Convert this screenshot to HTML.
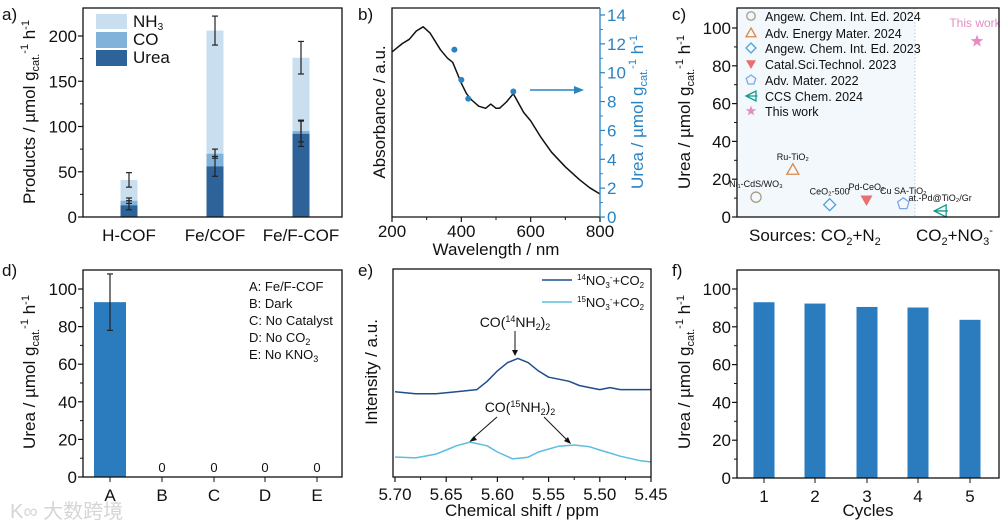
<!DOCTYPE html>
<html><head><meta charset="utf-8"><style>
body{margin:0;background:#fff;}
svg{display:block;font-family:"Liberation Sans","Noto Sans CJK SC",sans-serif;}
.t{font-size:17px;fill:#111;}
.s{font-size:11px;}
</style></head><body>
<svg id="fig" width="1000" height="525" viewBox="0 0 1000 525" xmlns="http://www.w3.org/2000/svg">
<text x="2" y="20" class="t" font-size="19">a)</text>
<text x="358" y="20" class="t" font-size="19">b)</text>
<text x="672" y="20" class="t" font-size="19">c)</text>
<text x="2" y="276" class="t" font-size="19">d)</text>
<text x="358" y="276" class="t" font-size="19">e)</text>
<text x="672" y="276" class="t" font-size="19">f)</text>

<rect x="737" y="8" width="178" height="209" fill="#f3f8fc"/>
<line x1="915" y1="8" x2="915" y2="217" stroke="#bcd" stroke-dasharray="1.5,2"/>

<text class="t" transform="translate(35,112) rotate(-90)" text-anchor="middle">Products / µmol g<tspan font-size="11" dy="4">cat.</tspan><tspan font-size="11" dy="-11">-1</tspan><tspan dy="7"> h</tspan><tspan font-size="11" dy="-6">-1</tspan></text>
<text class="t" transform="translate(385,112) rotate(-90)" text-anchor="middle">Absorbance / a.u.</text>
<text class="t" transform="translate(643,112) rotate(-90)" text-anchor="middle" style="fill:#2a83c2">Urea / µmol g<tspan font-size="11" dy="4">cat.</tspan><tspan font-size="11" dy="-11">-1</tspan><tspan dy="7"> h</tspan><tspan font-size="11" dy="-6">-1</tspan></text>
<text class="t" x="496" y="255" text-anchor="middle">Wavelength / nm</text>
<text class="t" transform="translate(690,112) rotate(-90)" text-anchor="middle">Urea / µmol g<tspan font-size="11" dy="4">cat.</tspan><tspan font-size="11" dy="-11">-1</tspan><tspan dy="7"> h</tspan><tspan font-size="11" dy="-6">-1</tspan></text>
<text class="t" x="749" y="241">Sources: CO<tspan font-size="11" dy="4">2</tspan><tspan dy="-4">+N</tspan><tspan font-size="11" dy="4">2</tspan></text>
<text class="t" x="916" y="241">CO<tspan font-size="11" dy="4">2</tspan><tspan dy="-4">+NO</tspan><tspan font-size="11" dy="4">3</tspan><tspan font-size="11" dy="-11">-</tspan></text>
<text class="t" transform="translate(35,372) rotate(-90)" text-anchor="middle">Urea / µmol g<tspan font-size="11" dy="4">cat.</tspan><tspan font-size="11" dy="-11">-1</tspan><tspan dy="7"> h</tspan><tspan font-size="11" dy="-6">-1</tspan></text>
<text class="t" transform="translate(377,372) rotate(-90)" text-anchor="middle">Intensity / a.u.</text>
<text class="t" x="522" y="516" text-anchor="middle">Chemical shift / ppm</text>
<text class="t" transform="translate(690,372) rotate(-90)" text-anchor="middle">Urea / µmol g<tspan font-size="11" dy="4">cat.</tspan><tspan font-size="11" dy="-11">-1</tspan><tspan dy="7"> h</tspan><tspan font-size="11" dy="-6">-1</tspan></text>
<text class="t" x="868" y="516" text-anchor="middle">Cycles</text>

<g>
<rect x="96" y="14" width="31" height="15" fill="#c9dfef"/><text x="133" y="27" class="t" font-size="14">NH<tspan font-size="10" dy="3">3</tspan></text>
<rect x="96" y="32" width="31" height="16" fill="#80b2da"/><text x="133" y="45" class="t" font-size="14">CO</text>
<rect x="96" y="50" width="31" height="16" fill="#2d6399"/><text x="133" y="63" class="t" font-size="14">Urea</text>
</g>

<g font-size="13" fill="#111">
<text x="249" y="291">A: Fe/F-COF</text><text x="249" y="308">B: Dark</text><text x="249" y="325">C: No Catalyst</text>
<text x="249" y="342">D: No CO<tspan font-size="9" dy="3">2</tspan></text><text x="249" y="359">E: No KNO<tspan font-size="9" dy="3">3</tspan></text>
</g>

<g font-size="13" fill="#111">
<line x1="542" y1="280" x2="572" y2="280" stroke="#1f4e8c" stroke-width="1.5"/>
<text x="577" y="285"><tspan font-size="8" dy="-5">14</tspan><tspan dy="5">NO</tspan><tspan font-size="8" dy="3">3</tspan><tspan font-size="8" dy="-8">-</tspan><tspan dy="5">+CO</tspan><tspan font-size="8" dy="3">2</tspan></text>
<line x1="542" y1="302" x2="572" y2="302" stroke="#5bbde0" stroke-width="1.5"/>
<text x="577" y="307"><tspan font-size="8" dy="-5">15</tspan><tspan dy="5">NO</tspan><tspan font-size="8" dy="3">3</tspan><tspan font-size="8" dy="-8">-</tspan><tspan dy="5">+CO</tspan><tspan font-size="8" dy="3">2</tspan></text>
</g>
<g font-size="14" fill="#111">
<text x="515" y="327" text-anchor="middle">CO(<tspan font-size="9" dy="-5">14</tspan><tspan dy="5">NH</tspan><tspan font-size="9" dy="3">2</tspan><tspan dy="-3">)</tspan><tspan font-size="9" dy="3">2</tspan></text>
<line x1="515" y1="331" x2="515" y2="354" stroke="#111"/><path d="M512,350 L515,356 L518,350Z" fill="#111"/>
<text x="520" y="412" text-anchor="middle">CO(<tspan font-size="9" dy="-5">15</tspan><tspan dy="5">NH</tspan><tspan font-size="9" dy="3">2</tspan><tspan dy="-3">)</tspan><tspan font-size="9" dy="3">2</tspan></text>
<line x1="497" y1="417" x2="472" y2="439" stroke="#111"/><path d="M469,442 L474,436 L477,440Z" fill="#111"/>
<line x1="544" y1="417" x2="568" y2="441" stroke="#111"/><path d="M571,444 L564,441 L568,437Z" fill="#111"/>
</g>

<g><line x1="530" y1="90" x2="575" y2="90" stroke="#2a83c2" stroke-width="1.5"/><path d="M584,90 L574,86 L574,94Z" fill="#2a83c2"/></g>

<text x="10" y="518" font-size="20" fill="#d5d5d5">K∞ 大数跨境</text>
<g id="marks"></g>
</svg>
<script>
const aCategories = ['H-COF','Fe/COF','Fe/F-COF'];
const aUrea = [13, 56, 92];
const aCO = [5, 14, 3];
const aNH3 = [23, 136, 81];
const aUreaErr = [5, 11, 14];
const aCOErr = [3, 5, 12];
const aTotalErr = [8, 16, 18];
const aTicks = [0,50,100,150,200];

const bWave = [200,215,230,250,270,290,310,340,360,375,390,400,415,430,450,470,485,500,510,530,550,560,580,600,630,660,700,740,770,800];
const bAbs = [0.79,0.81,0.83,0.85,0.89,0.91,0.88,0.80,0.76,0.74,0.68,0.64,0.59,0.56,0.53,0.52,0.54,0.52,0.52,0.55,0.59,0.56,0.50,0.46,0.38,0.31,0.24,0.18,0.14,0.11];
const bPointWave = [380,400,420,550];
const bPointUrea = [11.6,9.5,8.2,8.7];
const bXTicks = [200,400,600,800];
const bYTicks = [0,2,4,6,8,10,12,14];

const cNames = ['Angew. Chem. Int. Ed. 2024','Adv. Energy Mater. 2024','Angew. Chem. Int. Ed. 2023','Catal.Sci.Technol. 2023','Adv. Mater. 2022','CCS Chem. 2024','This work'];
const cLabels = ['Ni\u2081-CdS/WO\u2083','Ru-TiO\u2082','CeO\u2082-500','Pd-CeO\u2082','Cu SA-TiO\u2082','at.-Pd@TiO\u2082/Gr','This work'];
const cPos = [1,2,3,4,5,6,7];
const cUrea = [10.5,25,6.5,9,7,3.2,93];
const cTicks = [0,20,40,60,80,100];

const dCategories = ['A','B','C','D','E'];
const dUrea = [93,0,0,0,0];
const dErr = [15,0,0,0,0];
const dTicks = [0,20,40,60,80,100];

const ePpm14 = [5.70,5.68,5.66,5.64,5.62,5.61,5.60,5.59,5.58,5.57,5.56,5.55,5.54,5.53,5.52,5.51,5.50,5.49,5.48,5.46,5.45];
const eI14 = [0.41,0.40,0.40,0.41,0.42,0.46,0.51,0.55,0.57,0.55,0.51,0.48,0.47,0.46,0.44,0.43,0.42,0.43,0.42,0.42,0.42];
const ePpm15 = [5.70,5.68,5.66,5.65,5.64,5.627,5.61,5.60,5.585,5.57,5.56,5.54,5.525,5.51,5.50,5.48,5.46,5.45];
const eI15 = [0.096,0.092,0.11,0.13,0.15,0.168,0.15,0.12,0.087,0.095,0.12,0.148,0.154,0.145,0.13,0.10,0.078,0.072];
const eTicks = [5.70,5.65,5.60,5.55,5.50,5.45];

const fCycles = ['1','2','3','4','5'];
const fUrea = [93,92.3,90.5,90.2,83.7];
const fTicks = [0,20,40,60,80,100];

const NS='http://www.w3.org/2000/svg';
const root=document.getElementById('marks');
function mk(tag,attrs,txt){const e=document.createElementNS(NS,tag);for(const k in attrs)e.setAttribute(k,attrs[k]);if(txt!==undefined)e.textContent=txt;root.appendChild(e);return e;}
function lin(d0,d1,r0,r1){return v=>r0+(v-d0)*(r1-r0)/(d1-d0);}

function frame(name,x0,y0,x1,y1){
  const el=mk('rect',{x:x0,y:y0,width:x1-x0,height:y1-y0,fill:'none',stroke:'#111','stroke-width':1.3});
  
  
}
function yAxis(name,ticks,sc,x,minor,color,right){
  const c=color||'#111';
  ticks.forEach((t,i)=>{
    const y=sc(t);
    const tl=mk('line',{x1:x,x2:right?x+5:x-5,y1:y,y2:y,stroke:c,'stroke-width':1.2});
    
    
    const lb=mk('text',{x:right?x+7:x-6,y:y+6,'text-anchor':right?'start':'end','font-size':17,fill:c},String(t));
    
    
    if(minor&&i<ticks.length-1){
      const m=(t+ticks[i+1])/2;
      const ml=mk('line',{x1:x,x2:right?x+3:x-3,y1:sc(m),y2:sc(m),stroke:c});
      
      
    }
  });
}
function xTicks(name,ticks,sc,y,fmt,minor,off){
  ticks.forEach((t,i)=>{
    const x=sc(t);
    const tl=mk('line',{x1:x,x2:x,y1:y,y2:y+5,stroke:'#111','stroke-width':1.2});
    
    
    const lb=mk('text',{x:x,y:y+(off||23),'text-anchor':'middle','font-size':17,fill:'#111'},fmt?fmt(t):String(t));
    
    
    if(minor&&i<ticks.length-1){
      const mx=sc((t+ticks[i+1])/2);
      const ml=mk('line',{x1:mx,x2:mx,y1:y,y2:y+3,stroke:'#111'});
      
      
    }
  });
}
function errBar(name,x,lo,hi,w){
  const g=[mk('line',{x1:x,x2:x,y1:lo,y2:hi,stroke:'#222','stroke-width':1.2}),
           mk('line',{x1:x-w,x2:x+w,y1:lo,y2:lo,stroke:'#222','stroke-width':1.2}),
           mk('line',{x1:x-w,x2:x+w,y1:hi,y2:hi,stroke:'#222','stroke-width':1.2})];
  g.forEach(e=>{
    
    
  });
}

(function(){
  const ys=lin(0,200,217,36);
  const xc=[129,215,301], bw=17;
  aCategories.forEach((c,i)=>{
    const u=aUrea[i], co=u+aCO[i], tot=co+aNH3[i];
    const r1=mk('rect',{x:xc[i]-bw/2,y:ys(tot),width:bw,height:ys(co)-ys(tot),fill:'#c9dfef'});
    
    
    const r2=mk('rect',{x:xc[i]-bw/2,y:ys(co),width:bw,height:ys(u)-ys(co),fill:'#80b2da'});
    
    
    const r3=mk('rect',{x:xc[i]-bw/2,y:ys(u),width:bw,height:ys(0)-ys(u),fill:'#2d6399'});
    
    
    errBar('a-error-bar-total',xc[i],ys(tot-aTotalErr[i]),ys(tot+aTotalErr[i]),3);
    errBar('a-error-bar-co',xc[i],ys(co-aCOErr[i]),ys(co+aCOErr[i]),3);
    errBar('a-error-bar-urea',xc[i],ys(u-aUreaErr[i]),ys(u+aUreaErr[i]),3);
    const lb=mk('text',{x:xc[i],y:241,'text-anchor':'middle','font-size':17,fill:'#111'},c);
    
    
  });
  frame('a',83,8,342,217);
  yAxis('a',aTicks,ys,83,true);
})();

(function(){
  const xs=lin(200,800,392,600), ya=lin(0,1,217,8), yr=lin(0,14,217,15);
  const d=bWave.map((w,i)=>(i?'L':'M')+xs(w).toFixed(1)+','+ya(bAbs[i]).toFixed(1)).join(' ');
  const p=mk('path',{d:d,fill:'none',stroke:'#111','stroke-width':1.5,'stroke-linejoin':'round'});
  
  
  bPointWave.forEach((w,i)=>{
    const c=mk('circle',{cx:xs(w),cy:yr(bPointUrea[i]),r:3,fill:'#2a83c2'});
    
    
  });
  const fr=mk('path',{d:'M600,217 L392,217 L392,8 L600,8',fill:'none',stroke:'#111','stroke-width':1.3});
  
  
  const ra=mk('line',{x1:600,x2:600,y1:8,y2:217,stroke:'#2a83c2','stroke-width':1.3});
  
  
  xTicks('b',bXTicks,xs,217,null,true,20);
  yAxis('b',bYTicks,yr,600,true,'#2a83c2',true);
})();

(function(){
  const xs=lin(1,7,756,977), ys=lin(0,100,217,28);
  const colors=['#a59e86','#d9894a','#4aa3d8','#e86f6f','#7fa6e8','#11998e','#e68cc0'];
  const legY=[16,33,48,64,80,96,111];
  function marker(k,x,y,s){
    const c=colors[k];let e;
    if(k===0)e=mk('circle',{cx:x,cy:y,r:s*0.85,fill:'none',stroke:c,'stroke-width':1.3});
    else if(k===1)e=mk('path',{d:`M${x},${y-s} L${x+s},${y+s*0.75} L${x-s},${y+s*0.75}Z`,fill:'none',stroke:c,'stroke-width':1.3});
    else if(k===2)e=mk('path',{d:`M${x},${y-s} L${x+s},${y} L${x},${y+s} L${x-s},${y}Z`,fill:'none',stroke:c,'stroke-width':1.3});
    else if(k===3)e=mk('path',{d:`M${x-s},${y-s*0.75} L${x+s},${y-s*0.75} L${x},${y+s}Z`,fill:c});
    else if(k===4){let d='';for(let j=0;j<5;j++){const a=-Math.PI/2+j*2*Math.PI/5;d+=(j?'L':'M')+(x+s*Math.cos(a)).toFixed(1)+','+(y+s*Math.sin(a)).toFixed(1);}e=mk('path',{d:d+'Z',fill:'none',stroke:c,'stroke-width':1.3});}
    else if(k===5)e=mk('path',{d:`M${x-s},${y} L${x+s},${y-s} L${x+s},${y+s}Z M${x-s},${y} L${x+s*1.3},${y}`,fill:'none',stroke:c,'stroke-width':1.3});
    else {let d='';for(let j=0;j<10;j++){const a=-Math.PI/2+j*Math.PI/5,r=j%2?s*0.45:s*1.1;d+=(j?'L':'M')+(x+r*Math.cos(a)).toFixed(1)+','+(y+r*Math.sin(a)).toFixed(1);}e=mk('path',{d:d+'Z',fill:c});}
    return e;
  }
  cNames.forEach((n,i)=>{
    const m=marker(i,xs(cPos[i]),ys(cUrea[i]),6);
    
    
    const lm=marker(i,751,legY[i],5);
    
    
    const lt=mk('text',{x:765,y:legY[i]+5,'font-size':12.5,fill:'#111'},n);
    
    
    const pl=mk('text',{x:xs(cPos[i])+(i===6?-2:0),y:ys(cUrea[i])-(i===6?14:10),'text-anchor':'middle','font-size':i===6?12:9,fill:i===6?'#e68cc0':'#111'},cLabels[i]);
    
    
  });
  frame('c',737,8,999,217);
  yAxis('c',cTicks,ys,737,true);
})();

(function(){
  const ys=lin(0,100,477,289);
  const xc=[110,162,214,265,317], bw=32;
  dCategories.forEach((c,i)=>{
    if(dUrea[i]>0){
      const r=mk('rect',{x:xc[i]-bw/2,y:ys(dUrea[i]),width:bw,height:ys(0)-ys(dUrea[i]),fill:'#2b7bbf'});
      
      
      errBar('d-error-bar',xc[i],ys(dUrea[i]-dErr[i]),ys(dUrea[i]+dErr[i]),3);
    } else {
      const z=mk('text',{x:xc[i],y:ys(dUrea[i])-5,'text-anchor':'middle','font-size':13,fill:'#111'},String(dUrea[i]));
      
      
    }
    const lb=mk('text',{x:xc[i],y:501,'text-anchor':'middle','font-size':17,fill:'#111'},c);
    
    
    const tk=mk('line',{x1:xc[i],x2:xc[i],y1:477,y2:482,stroke:'#111'});
    
    
  });
  frame('d',83,270,342,477);
  yAxis('d',dTicks,ys,83,true);
})();

(function(){
  const xs=lin(5.70,5.45,395,651), ys=lin(0,1,477,269);
  const d1=ePpm14.map((p,i)=>(i?'L':'M')+xs(p).toFixed(1)+','+ys(eI14[i]).toFixed(1)).join(' ');
  const l1=mk('path',{d:d1,fill:'none',stroke:'#1f4e8c','stroke-width':1.5,'stroke-linejoin':'round'});
  
  
  const d2=ePpm15.map((p,i)=>(i?'L':'M')+xs(p).toFixed(1)+','+ys(eI15[i]).toFixed(1)).join(' ');
  const l2=mk('path',{d:d2,fill:'none',stroke:'#5bbde0','stroke-width':1.5,'stroke-linejoin':'round'});
  
  
  frame('e',393,269,651,477);
  xTicks('e',eTicks,xs,477,t=>t.toFixed(2),true);
})();

(function(){
  const ys=lin(0,100,478,289);
  const xc=[764,815,867,918,970], bw=21;
  fCycles.forEach((c,i)=>{
    const r=mk('rect',{x:xc[i]-bw/2,y:ys(fUrea[i]),width:bw,height:ys(0)-ys(fUrea[i]),fill:'#2b7bbf'});
    
    
    const lb=mk('text',{x:xc[i],y:502,'text-anchor':'middle','font-size':17,fill:'#111'},c);
    
    
    const tk=mk('line',{x1:xc[i],x2:xc[i],y1:478,y2:483,stroke:'#111'});
    
    
  });
  frame('f',737,270,999,478);
  yAxis('f',fTicks,ys,737,true);
})();
</script>
</body></html>
